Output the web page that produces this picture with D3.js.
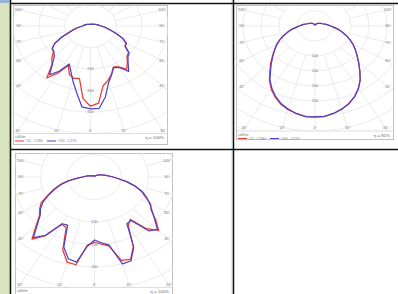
<!DOCTYPE html>
<html>
<head>
<meta charset="utf-8">
<script src="https://cdn.jsdelivr.net/npm/d3@7"></script>
<style>
  body { margin: 0; background: #fff; }
  svg { display: block; font-family: "Liberation Sans", Arial, sans-serif; }
</style>
</head>
<body>
<svg id="page" width="398" height="294"></svg>
<script>
// gamma angles (deg from nadir) shared by every half curve
const gamma = [0, 5, 10, 15, 20, 25, 30, 35, 40, 45, 50, 55, 60, 65, 70, 75, 80, 85, 90,
               100, 110, 120, 130, 140, 150, 160, 170, 180];

// chart 1 (cd/klm)
const c1C0   = [373, 360, 282, 262, 238, 210, 220, 245, 222, 200, 192, 163, 158, 138, 108, 84, 66, 54, 41, 29, 21, 16, 13, 11, 10, 9, 8, 8];
const c1C180 = [372, 338, 247, 252, 240, 203, 252, 295, 232, 212, 188, 180, 160, 125, 90, 70, 55, 40, 31, 25, 19, 15, 12, 10, 9, 8, 8, 8];
const c1C90  = [385, 385, 334, 272, 240, 212, 223, 258, 227, 205, 196, 165, 161, 140, 110, 85, 67, 55, 42, 28, 21, 16, 13, 11, 10, 9, 8, 8];
const c1C270 = [381, 378, 313, 264, 223, 195, 243, 277, 229, 198, 185, 182, 158, 123, 88, 69, 54, 39, 30, 24, 19, 15, 12, 10, 9, 8, 8, 8];

// chart 2
const c2C0   = [304, 303, 296, 287, 276, 260, 241, 219, 194, 172, 153, 137, 122, 107, 92, 78, 66, 53, 44, 32, 22, 18, 14, 11, 8, 6, 4, 3];
const c2C180 = [304, 303, 297, 289, 278, 262, 243, 221, 195, 174, 154, 137, 123, 108, 93, 79, 66, 53, 44, 32, 22, 18, 14, 11, 8, 6, 4, 3];
const c2C90  = [303, 302, 296, 287, 275, 260, 241, 219, 193, 171, 152, 136, 122, 107, 92, 78, 66, 53, 44, 32, 22, 18, 14, 11, 8, 6, 4, 3];
const c2C270 = [304, 303, 296, 287, 275, 259, 240, 218, 192, 171, 152, 136, 122, 107, 92, 78, 66, 53, 44, 32, 22, 18, 14, 11, 8, 6, 4, 3];

// chart 3
const c3C0   = [145, 150, 156, 192, 195, 170, 125, 115, 150, 168, 148, 128, 120, 104, 92, 77, 60, 44, 34, 21, 13, 9, 6, 4, 3, 2, 2, 2];
const c3C180 = [145, 152, 198, 196, 172, 124, 121, 160, 180, 153, 133, 124, 114, 95, 80, 66, 50, 34, 23, 13, 8, 6, 4, 3, 3, 2, 2, 2];
const c3C90  = [140, 147, 153, 200, 198, 172, 120, 118, 156, 165, 145, 130, 118, 106, 94, 78, 62, 45, 35, 22, 14, 9, 6, 4, 3, 2, 2, 2];
const c3C270 = [142, 155, 192, 188, 166, 118, 120, 158, 176, 150, 131, 122, 110, 93, 78, 64, 48, 33, 22, 13, 8, 6, 4, 3, 3, 2, 2, 2];

const sideAngles = [105, 90, 75, 60, 45];
const bottomAngles = [30, 15, 0];

const redColor = "#ec3b2e";
const blueColor = "#4d45c9";
const sx = 1.2; // picture was stretched sideways

const charts = [
  { x: 13, y: 5, w: 155, h: 140, plotBottom: 133, cx: 90.5, cy: 26, ky: 0.215, ringStep: 100,
    ringLabels: [200, 300, 400], eta: "η = 100%",
    red: [c1C0, c1C180], blue: [c1C90, c1C270] },
  { x: 236, y: 5, w: 158, h: 135, plotBottom: 130.5, cx: 315, cy: 26, ky: 0.3, ringStep: 50,
    ringLabels: [100, 150, 200, 250], eta: "η = 81%",
    red: [c2C0, c2C180], blue: [c2C90, c2C270] },
  { x: 15, y: 153, w: 158, h: 150, plotBottom: 287, cx: 94.5, cy: 177, ky: 0.45, ringStep: 50,
    ringLabels: [100, 150, 200], eta: "η = 100%",
    red: [c3C0, c3C180], blue: [c3C90, c3C270] }
];

const svg = d3.select("#page");

// table background
svg.append("rect").attr("x", 0).attr("y", 0).attr("width", 9).attr("height", 294).attr("fill", "#d8e4bd");
svg.append("rect").attr("x", 0).attr("y", 0).attr("width", 9).attr("height", 3).attr("fill", "#95b3d7");
svg.append("line").attr("x1", 9.5).attr("x2", 9.5).attr("y1", 0).attr("y2", 294).attr("stroke", "#b8cce4");
svg.append("line").attr("x1", 232).attr("x2", 232).attr("y1", 0).attr("y2", 294).attr("stroke", "#c6d9f0");

function drawChart(cfg, i) {
  const g = svg.append("g");
  const clipId = "clip" + i;
  g.append("clipPath").attr("id", clipId)
    .append("rect")
    .attr("x", cfg.x).attr("y", cfg.y)
    .attr("width", cfg.w).attr("height", cfg.plotBottom - cfg.y);

  g.append("rect")
    .attr("x", cfg.x + 0.5).attr("y", cfg.y + 0.5)
    .attr("width", cfg.w - 1).attr("height", cfg.h - 1)
    .attr("fill", "#fff").attr("stroke", "#c2c2c2");

  const r = d3.scaleLinear().domain([0, cfg.ringStep]).range([0, cfg.ringStep * cfg.ky]);
  const grid = g.append("g").attr("clip-path", `url(#${clipId})`);

  // rings
  const maxVal = 250 / cfg.ky;
  grid.selectAll("ellipse")
    .data(d3.range(cfg.ringStep, maxVal, cfg.ringStep))
    .enter().append("ellipse")
    .attr("cx", cfg.cx).attr("cy", cfg.cy)
    .attr("rx", d => r(d) * sx).attr("ry", d => r(d))
    .attr("fill", "none").attr("stroke", "#e2e2e2").attr("stroke-width", 0.7);

  // rays every 15 deg, both sides
  const rays = [];
  d3.range(0, 181, 15).forEach(a => { rays.push([a, 1]); if (a > 0 && a < 180) rays.push([a, -1]); });
  const rad = a => a * Math.PI / 180;
  grid.selectAll("line.ray")
    .data(rays)
    .enter().append("line")
    .attr("class", "ray")
    .attr("x1", d => cfg.cx + d[1] * r(100) * Math.sin(rad(d[0])) * sx)
    .attr("y1", d => cfg.cy + r(100) * Math.cos(rad(d[0])))
    .attr("x2", d => cfg.cx + d[1] * r(maxVal) * Math.sin(rad(d[0])) * sx)
    .attr("y2", d => cfg.cy + r(maxVal) * Math.cos(rad(d[0])))
    .attr("stroke", "#e2e2e2").attr("stroke-width", 0.7);

  // separator above legend
  g.append("line")
    .attr("x1", cfg.x + 1).attr("x2", cfg.x + cfg.w - 1)
    .attr("y1", cfg.plotBottom + 0.5).attr("y2", cfg.plotBottom + 0.5)
    .attr("stroke", "#d0d0d0").attr("stroke-width", 0.7);

  // ring labels
  g.selectAll("text.ring")
    .data(cfg.ringLabels)
    .enter().append("text")
    .attr("class", "ring")
    .attr("x", cfg.cx).attr("y", d => cfg.cy + r(d))
    .attr("dy", "0.35em").attr("text-anchor", "middle")
    .attr("font-size", 3.8).attr("fill", "#777")
    .text(d => d);

  // angle labels on the sides
  const xl = cfg.x + 6, xr = cfg.x + cfg.w - 6;
  const D = cfg.cx - xl;
  sideAngles.forEach(a => {
    const y = cfg.cy + D / Math.tan(rad(a)) / sx;
    [xl, xr].forEach(x => {
      g.append("text")
        .attr("x", x).attr("y", y).attr("dy", "0.35em")
        .attr("text-anchor", "middle")
        .attr("font-size", 3.8).attr("fill", "#777")
        .text(a + "°");
    });
  });
  const yb = cfg.plotBottom - 2.5;
  bottomAngles.forEach(a => {
    const off = (yb - cfg.cy) * Math.tan(rad(a)) * sx;
    (a === 0 ? [0] : [-1, 1]).forEach(s => {
      g.append("text")
        .attr("x", cfg.cx + s * off).attr("y", yb).attr("dy", "0.35em")
        .attr("text-anchor", "middle")
        .attr("font-size", 3.8).attr("fill", "#777")
        .text(a + "°");
    });
  });

  // curves
  const line = d3.line().curve(d3.curveLinearClosed);
  function curvePoints(right, left) {
    const pts = [];
    gamma.forEach((a, j) => pts.push([cfg.cx + r(right[j]) * Math.sin(rad(a)) * sx, cfg.cy + r(right[j]) * Math.cos(rad(a))]));
    for (let j = gamma.length - 2; j > 0; j--) {
      const a = gamma[j];
      pts.push([cfg.cx - r(left[j]) * Math.sin(rad(a)) * sx, cfg.cy + r(left[j]) * Math.cos(rad(a))]);
    }
    return pts;
  }
  const curves = g.append("g").attr("clip-path", `url(#${clipId})`);
  [[cfg.red, redColor], [cfg.blue, blueColor]].forEach(([s, col]) => {
    curves.append("path")
      .attr("d", line(curvePoints(s[0], s[1])))
      .attr("fill", "none").attr("stroke", col)
      .attr("stroke-width", 1.25).attr("stroke-linejoin", "round");
  });

  // legend
  const ly = cfg.plotBottom + 4;
  g.append("text").attr("x", cfg.x + 2).attr("y", ly).attr("dy", "0.35em")
    .attr("font-size", 3.6).attr("fill", "#777").text("cd/klm");
  g.append("text").attr("x", cfg.x + cfg.w - 4).attr("y", ly + 0.5).attr("dy", "0.35em")
    .attr("text-anchor", "end").attr("font-size", 4.4).attr("fill", "#666").text(cfg.eta);
  const ly2 = ly + 4;
  if (ly2 + 2 > 294) return; // legend row falls below the page, as in the screenshot
  [[2, redColor, "C0 - C180"], [34, blueColor, "C90 - C270"]].forEach(([off, col, label]) => {
    g.append("line").attr("x1", cfg.x + off).attr("x2", cfg.x + off + 9)
      .attr("y1", ly2).attr("y2", ly2).attr("stroke", col).attr("stroke-width", 1);
    g.append("text").attr("x", cfg.x + off + 11).attr("y", ly2).attr("dy", "0.35em")
      .attr("font-size", 3.6).attr("fill", "#777").text(label);
  });
}

charts.forEach(drawChart);

// table borders
const borders = svg.append("g").attr("stroke", "#111").attr("stroke-width", 1.5);
borders.append("line").attr("x1", 10.5).attr("x2", 10.5).attr("y1", 0).attr("y2", 294);
borders.append("line").attr("x1", 233.5).attr("x2", 233.5).attr("y1", 0).attr("y2", 294);
borders.append("line").attr("x1", 10).attr("x2", 398).attr("y1", 3.5).attr("y2", 3.5);
borders.append("line").attr("x1", 10).attr("x2", 398).attr("y1", 149.5).attr("y2", 149.5);
</script>
</body>
</html>
